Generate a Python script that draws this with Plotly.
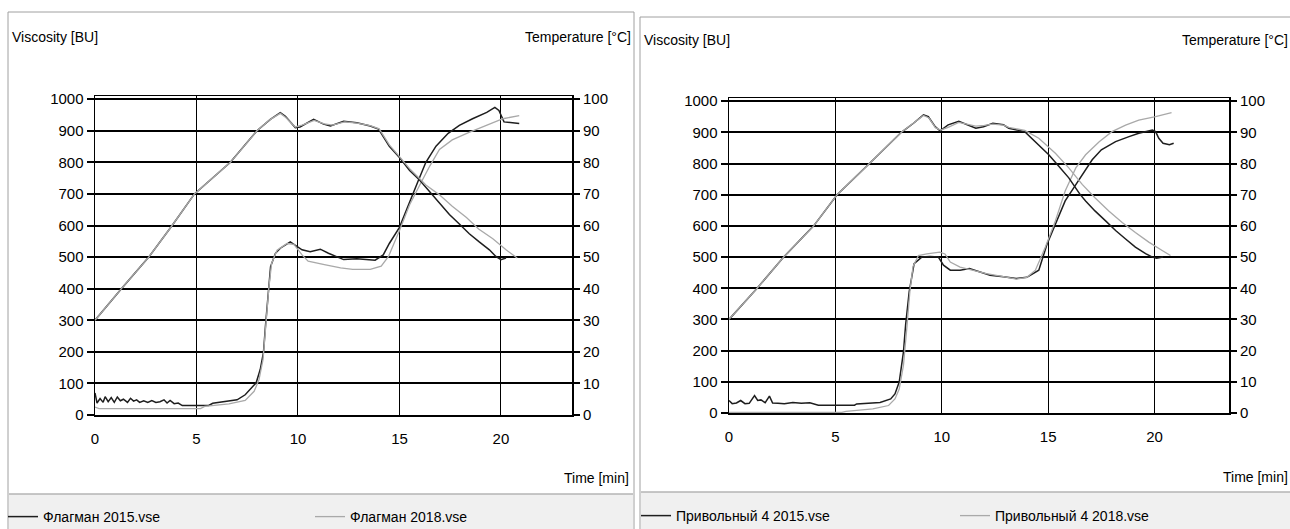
import plotly.graph_objects as go

# ---------------- data: Флагман (left panel) ----------------
flag_v15_t = [0, 0.1, 0.25, 0.4, 0.5, 0.65, 0.8, 0.95, 1.1, 1.25, 1.4, 1.6, 1.75, 1.9, 2.05, 2.2, 2.4, 2.6, 2.8,
              3.0, 3.2, 3.4, 3.55, 3.7, 3.9, 4.1, 4.3, 4.5, 5.6, 5.8, 6.6, 7.0, 7.4, 7.7, 7.94, 8.14, 8.3, 8.4,
              8.54, 8.65, 8.89, 9.13, 9.62, 9.87, 10.2, 10.6, 11.1, 11.5, 11.9, 12.25, 12.9, 13.4, 13.8, 14.2,
              14.5, 15.0, 15.5, 15.9, 16.3, 16.8, 17.4, 17.95, 18.6, 19.3, 19.7, 19.9, 20.15, 20.9]
flag_v15 = [70, 38, 52, 40, 58, 42, 55, 40, 57, 45, 50, 40, 53, 44, 48, 40, 45, 40, 46,
            40, 42, 48, 38, 46, 36, 38, 30, 30, 30, 37, 43, 48, 64, 86, 102, 144, 198, 283,
            390, 470, 512, 528, 548, 538, 523, 517, 525, 512, 500, 492, 495, 492, 490, 507,
            543, 594, 676, 738, 800, 851, 892, 917, 938, 958, 974, 964, 928, 923]

flag_v18_t = [0, 0.2, 5.2, 5.4, 6.6, 7.4, 7.84, 8.08, 8.28, 8.42, 8.56, 8.7, 8.97, 9.46, 9.8, 10.2, 10.5,
              11.3, 12.1, 12.7, 13.56, 14.1, 14.46, 15.0, 15.5, 16.0, 16.5, 16.97, 17.6, 18.4, 19.3, 20.1, 20.9]
flag_v18 = [25, 20, 20, 27, 35, 46, 75, 112, 176, 300, 400, 480, 522, 543, 540, 507, 487,
            476, 466, 461, 461, 471, 502, 584, 666, 728, 789, 841, 871, 894, 917, 938, 948]

flag_T15_t = [0, 1.3, 2.65, 3.8, 4.9, 6.67, 7.98, 8.64, 9.13, 9.38, 9.87, 10.1, 10.77, 11.26, 11.6, 12.25,
              12.9, 13.56, 13.97, 14.5, 15.0, 15.5, 16.0, 16.5, 16.97, 17.46, 17.95, 18.44, 18.93, 19.43,
              19.75, 20.0, 20.25]
flag_T15 = [30, 40, 50, 60, 70, 80, 90, 93.6, 95.7, 94.6, 91.0, 91.2, 93.6, 92.1, 91.5, 93.0,
            92.5, 91.5, 90.5, 85.1, 81.5, 77.4, 74.3, 70.7, 67.1, 63.5, 60.5, 57.4, 54.8, 52.3,
            50.2, 49.2, 49.7]

flag_T18_t = [0, 1.3, 2.65, 3.8, 4.9, 6.67, 7.98, 8.64, 9.13, 9.4, 9.87, 10.2, 10.8, 11.3, 11.7, 12.3,
              12.9, 13.56, 14.0, 14.5, 15.0, 15.5, 16.0, 16.3, 16.97, 17.6, 18.3, 18.9, 19.6, 20.25, 20.8]
flag_T18 = [30, 40, 50, 60, 70, 80, 90, 93.6, 95.5, 94.2, 91.2, 91.8, 93.3, 92.2, 91.8, 92.8,
            92.4, 91.6, 90.6, 85.5, 81.8, 78.0, 74.8, 72.8, 69.7, 66.1, 62.5, 58.9, 55.8, 52.3, 49.7]

# ---------------- data: Привольный 4 (right panel) ----------------
priv_v15_t = [0, 0.15, 0.35, 0.55, 0.75, 0.95, 1.2, 1.35, 1.5, 1.7, 1.9, 2.05, 2.3, 2.6, 3.0, 3.4, 3.8,
              4.0, 4.2, 5.9, 6.0, 7.1, 7.6, 7.8, 8.0, 8.2, 8.3, 8.47, 8.7, 9.06, 9.45, 9.84, 10.08, 10.4,
              10.86, 11.3, 11.8, 12.27, 12.9, 13.5, 14.0, 14.56, 14.95, 15.34, 15.8, 16.2, 16.6, 17.07,
              17.5, 18.17, 18.8, 19.26, 19.9, 20.05, 20.2, 20.4, 20.7, 20.9]
priv_v15 = [40, 30, 32, 40, 30, 31, 56, 40, 42, 33, 54, 32, 31, 30, 34, 31, 33,
            28, 25, 25, 29, 34, 45, 61, 99, 196, 282, 389, 479, 500, 502, 500, 474, 458,
            458, 463, 452, 442, 437, 431, 435, 458, 542, 606, 680, 722, 765, 812,
            844, 870, 886, 897, 907, 902, 881, 865, 860, 865]

priv_v18_t = [0, 5.3, 5.5, 6.76, 7.5, 7.8, 8.0, 8.2, 8.37, 8.5, 8.65, 8.9, 9.3, 9.9, 10.15, 10.4, 10.86,
              11.5, 12.1, 12.9, 13.5, 14.0, 14.4, 14.87, 15.34, 15.8, 16.3, 16.76, 17.4, 18.0, 18.64,
              19.26, 20.05, 20.8]
priv_v18 = [2, 2, 5, 13, 24, 45, 77, 153, 282, 389, 470, 505, 510, 516, 510, 484, 468,
            458, 447, 437, 429, 435, 458, 532, 616, 712, 786, 828, 870, 902, 923,
            939, 950, 963]

priv_T15_t = [0, 1.32, 2.57, 3.98, 5.08, 6.16, 6.6, 8.1, 8.67, 9.14, 9.37, 9.69, 9.92, 10.3, 10.8, 11.2,
              11.6, 11.96, 12.4, 12.9, 13.15, 13.9, 14.56, 15.03, 15.5, 15.97, 16.29, 16.5, 16.76, 17.2,
              17.7, 18.17, 18.64, 19.1, 19.58, 19.9, 20.1, 20.4]
priv_T15 = [30, 40, 50, 60, 70, 77, 80, 90, 92.9, 95.6, 95.0, 91.8, 90.5, 92.4, 93.5, 92.4,
            91.3, 91.8, 92.9, 92.4, 91.3, 90.2, 86.0, 82.8, 79.1, 75.4, 72.2, 70.1, 68.0, 64.8,
            61.6, 58.5, 55.8, 53.2, 51.1, 50.0, 49.6, 50.0]

priv_T18_t = [0, 1.32, 2.57, 3.98, 5.08, 6.16, 6.6, 8.1, 8.67, 9.14, 9.4, 9.7, 9.95, 10.3, 10.8, 11.2,
              11.6, 12.0, 12.4, 12.9, 13.15, 13.9, 14.56, 15.34, 15.97, 16.6, 17.2, 17.85, 18.48, 19.1,
              19.73, 20.36, 20.75]
priv_T18 = [30, 40, 50, 60, 70, 77, 80, 90, 93.0, 95.4, 94.6, 91.5, 90.7, 91.6, 93.2, 92.6,
            92.0, 92.2, 92.6, 92.3, 91.6, 90.6, 88.1, 83.3, 78.6, 73.3, 69.0, 64.8, 61.1, 57.9,
            54.8, 52.1, 50.5]

names_left = ["Флагман 2015.vse", "Флагман 2018.vse"]
names_right = ["Привольный 4 2015.vse", "Привольный 4 2018.vse"]

# ---------------- styling ----------------
W, H = 1290, 529
FONT = "Liberation Sans, Arial, sans-serif"
BLACK = "#1e1e1e"
GRAY = "#a9a9a9"


def px(x):
    return x / W


def py(y):
    return 1 - y / H


fig = go.Figure()

panels = [
    dict(xa="x", ya="y", ta="y3", leg="legend",
         v15=(flag_v15_t, flag_v15), v18=(flag_v18_t, flag_v18),
         T15=(flag_T15_t, flag_T15), T18=(flag_T18_t, flag_T18), names=names_left),
    dict(xa="x2", ya="y2", ta="y4", leg="legend2",
         v15=(priv_v15_t, priv_v15), v18=(priv_v18_t, priv_v18),
         T15=(priv_T15_t, priv_T15), T18=(priv_T18_t, priv_T18), names=names_right),
]

for p in panels:
    # temperature curves (right axis)
    fig.add_trace(go.Scatter(x=p["T15"][0], y=p["T15"][1], xaxis=p["xa"], yaxis=p["ta"], mode="lines",
                             line=dict(color=BLACK, width=1.5), showlegend=False, hoverinfo="skip"))
    fig.add_trace(go.Scatter(x=p["T18"][0], y=p["T18"][1], xaxis=p["xa"], yaxis=p["ta"], mode="lines",
                             line=dict(color=GRAY, width=1.3), showlegend=False, hoverinfo="skip"))
    # viscosity curves (left axis)
    fig.add_trace(go.Scatter(x=p["v15"][0], y=p["v15"][1], xaxis=p["xa"], yaxis=p["ya"], mode="lines",
                             line=dict(color=BLACK, width=1.5), name=p["names"][0], legend=p["leg"]))
    fig.add_trace(go.Scatter(x=p["v18"][0], y=p["v18"][1], xaxis=p["xa"], yaxis=p["ya"], mode="lines",
                             line=dict(color=GRAY, width=1.3), name=p["names"][1], legend=p["leg"]))

tickfont = dict(family=FONT, size=15, color="#000")

xcommon = dict(range=[0, 23.5], tickvals=[0, 5, 10, 15, 20], showgrid=True, gridcolor="#000", gridwidth=1,
               showline=True, linecolor="#000", linewidth=1.5, mirror=True, zeroline=False,
               ticks="outside", ticklen=9, tickcolor="rgba(0,0,0,0)", tickfont=tickfont, fixedrange=True)
ycommon = dict(range=[0, 1010], tickvals=list(range(0, 1001, 100)), showgrid=True, gridcolor="#000",
               gridwidth=2, showline=True, linecolor="#000", linewidth=1.5, mirror=True, zeroline=False,
               ticks="outside", ticklen=7, tickwidth=2, tickcolor="#000", tickfont=tickfont, fixedrange=True)
tcommon = dict(range=[0, 101], tickvals=list(range(0, 101, 10)), showgrid=False, zeroline=False,
               side="right", ticks="outside", ticklen=7, tickwidth=2, tickcolor="#000", tickfont=tickfont,
               showline=False, fixedrange=True)

legfont = dict(family=FONT, size=14, color="#000")
fig.update_layout(
    width=W, height=H, margin=dict(l=0, r=0, t=0, b=0, autoexpand=False),
    paper_bgcolor="white", plot_bgcolor="white",
    font=dict(family=FONT, size=14, color="#000"),
    xaxis=dict(domain=[px(95), px(572)], anchor="y", **xcommon),
    yaxis=dict(domain=[py(415), py(96)], anchor="x", **ycommon),
    yaxis3=dict(overlaying="y", anchor="x", **tcommon),
    xaxis2=dict(domain=[px(729), px(1229)], anchor="y2", **xcommon),
    yaxis2=dict(domain=[py(413), py(98)], anchor="x2", **ycommon),
    yaxis4=dict(overlaying="y2", anchor="x2", **tcommon),
    legend=dict(x=px(3), y=py(517), xanchor="left", yanchor="middle", orientation="h",
                entrywidth=262, entrywidthmode="pixels", itemwidth=30, bgcolor="rgba(0,0,0,0)",
                font=legfont),
    legend2=dict(x=px(636), y=py(516), xanchor="left", yanchor="middle", orientation="h",
                 entrywidth=274, entrywidthmode="pixels", itemwidth=30, bgcolor="rgba(0,0,0,0)",
                 font=legfont),
    showlegend=True,
)

shapes = []
# panel frames
shapes.append(dict(type="rect", xref="paper", yref="paper", x0=px(8), x1=px(634), y0=-0.01, y1=py(12),
                   line=dict(color="#a0a0a0", width=1), fillcolor="rgba(0,0,0,0)", layer="below"))
shapes.append(dict(type="rect", xref="paper", yref="paper", x0=px(640), x1=1.01, y0=-0.01, y1=py(17),
                   line=dict(color="#a0a0a0", width=1), fillcolor="rgba(0,0,0,0)", layer="below"))
# legend bands
shapes.append(dict(type="rect", xref="paper", yref="paper", x0=px(9), x1=px(633), y0=-0.01, y1=py(494),
                   line=dict(width=0), fillcolor="#f0f0f0", layer="below"))
shapes.append(dict(type="line", xref="paper", yref="paper", x0=px(9), x1=px(633), y0=py(494), y1=py(494),
                   line=dict(color="#b4b4b4", width=1.5), layer="below"))
shapes.append(dict(type="rect", xref="paper", yref="paper", x0=px(641), x1=1.01, y0=-0.01, y1=py(492),
                   line=dict(width=0), fillcolor="#f0f0f0", layer="below"))
shapes.append(dict(type="line", xref="paper", yref="paper", x0=px(641), x1=1.0, y0=py(492), y1=py(492),
                   line=dict(color="#b4b4b4", width=1.5), layer="below"))
fig.update_layout(shapes=shapes)

afont = dict(family=FONT, size=14, color="#000")
annots = [
    dict(text="Viscosity [BU]", x=px(11), y=py(37), xanchor="left"),
    dict(text="Temperature [°C]", x=px(632), y=py(37), xanchor="right"),
    dict(text="Time [min]", x=px(630), y=py(478), xanchor="right"),
    dict(text="Viscosity [BU]", x=px(643), y=py(40), xanchor="left"),
    dict(text="Temperature [°C]", x=px(1289), y=py(40), xanchor="right"),
    dict(text="Time [min]", x=px(1289), y=py(477), xanchor="right"),
]
for a in annots:
    fig.add_annotation(xref="paper", yref="paper", yanchor="middle", showarrow=False, font=afont,
                       borderpad=0, **a)

fig.write_html("out.html", config={"displayModeBar": False, "staticPlot": True},
               post_script="document.body.style.margin='0';document.body.style.overflow='hidden';")
